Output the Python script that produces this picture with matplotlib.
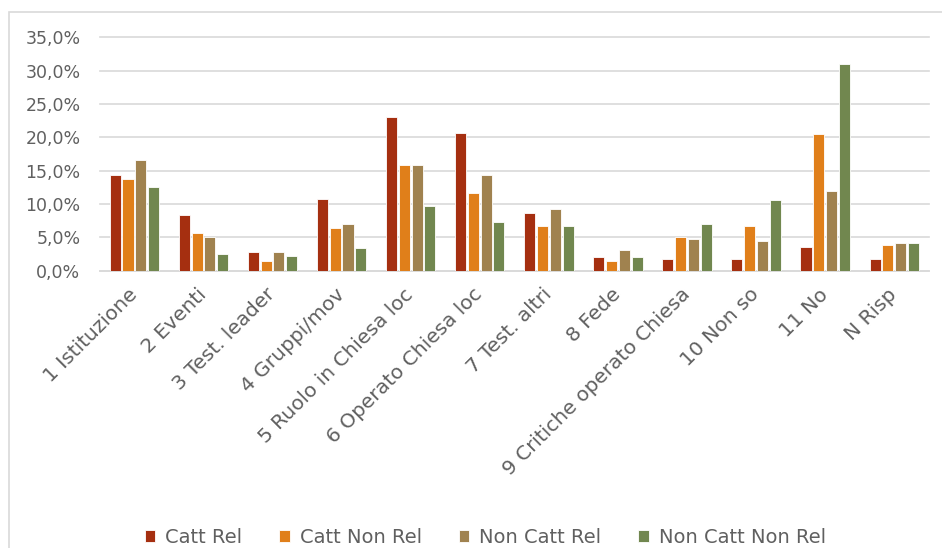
import numpy as np
import matplotlib
matplotlib.use("Agg")
import matplotlib.pyplot as plt
from matplotlib.patches import Rectangle
from matplotlib.ticker import FuncFormatter

categorie = ["1 Istituzione", "2 Eventi", "3 Test. leader", "4 Gruppi/mov",
             "5 Ruolo in Chiesa loc", "6 Operato Chiesa loc", "7 Test. altri",
             "8 Fede", "9 Critiche operato Chiesa", "10 Non so", "11 No",
             "N Risp"]

catt_rel = [14.4, 8.3, 2.8, 10.8, 23.0, 20.7, 8.6, 2.0, 1.7, 1.7, 3.6, 1.7]
catt_non_rel = [13.8, 5.6, 1.4, 6.4, 15.8, 11.6, 6.7, 1.4, 5.0, 6.7, 20.5, 3.9]
non_catt_rel = [16.6, 5.0, 2.8, 7.0, 15.8, 14.4, 9.2, 3.1, 4.8, 4.5, 11.9, 4.2]
non_catt_non_rel = [12.5, 2.5, 2.2, 3.4, 9.7, 7.3, 6.7, 2.0, 7.0, 10.6, 31.0, 4.2]

serie = ["Catt Rel", "Catt Non Rel", "Non Catt Rel", "Non Catt Non Rel"]
valori = [catt_rel, catt_non_rel, non_catt_rel, non_catt_non_rel]
colori = ["#A52F10", "#E07F1A", "#A0824F", "#71874F"]

grigio = "#606060"
plt.rcParams["font.family"] = ["DejaVu Sans"]

fig = plt.figure(figsize=(9.42, 5.48), dpi=100)
ax = fig.add_axes([0.106, 0.506, 0.880, 0.426])

# cornice dell'area grafico
fig.patches.append(Rectangle((8.5 / 942, -0.05), 1.1, 1 - 12 / 548 + 0.05,
                             transform=fig.transFigure, fill=False,
                             edgecolor="#D9D9D9", linewidth=1.2))

x = np.arange(len(categorie))
passo = 0.185
larg = 0.16
for i, (nome, v, c) in enumerate(zip(serie, valori, colori)):
    ax.bar(x + (i - 1.5) * passo, v, width=larg, color=c, label=nome,
           edgecolor="white", linewidth=0.6, zorder=3)

ax.set_ylim(0, 35)
ax.set_xlim(-0.5, len(categorie) - 0.5)
ax.set_yticks(np.arange(0, 36, 5))
ax.yaxis.set_major_formatter(FuncFormatter(lambda v, p: f"{v:.1f}%".replace(".", ",")))
ax.grid(axis="y", color="#D9D9D9", linewidth=1.2, zorder=0)
for g in ax.get_ygridlines():
    g.set_clip_on(False)
for s in ["top", "right", "left"]:
    ax.spines[s].set_visible(False)
ax.spines["bottom"].set_color("#D9D9D9")
ax.spines["bottom"].set_linewidth(1.2)
ax.tick_params(axis="both", length=0, colors=grigio)
ax.tick_params(axis="y", pad=14, labelsize=12.5)

ax.set_xticks(x)
ax.set_xticklabels(categorie, rotation=45, ha="right", va="center",
                   rotation_mode="anchor", color=grigio, fontsize=14.5)
ax.tick_params(axis="x", pad=15)

fig.legend(loc="center", bbox_to_anchor=(0.515, 0.02), ncol=4, frameon=False,
           fontsize=14, labelcolor=grigio, handlelength=0.55, handleheight=0.55,
           handletextpad=0.5, columnspacing=1.9)

fig.savefig("out.png", dpi=100)
